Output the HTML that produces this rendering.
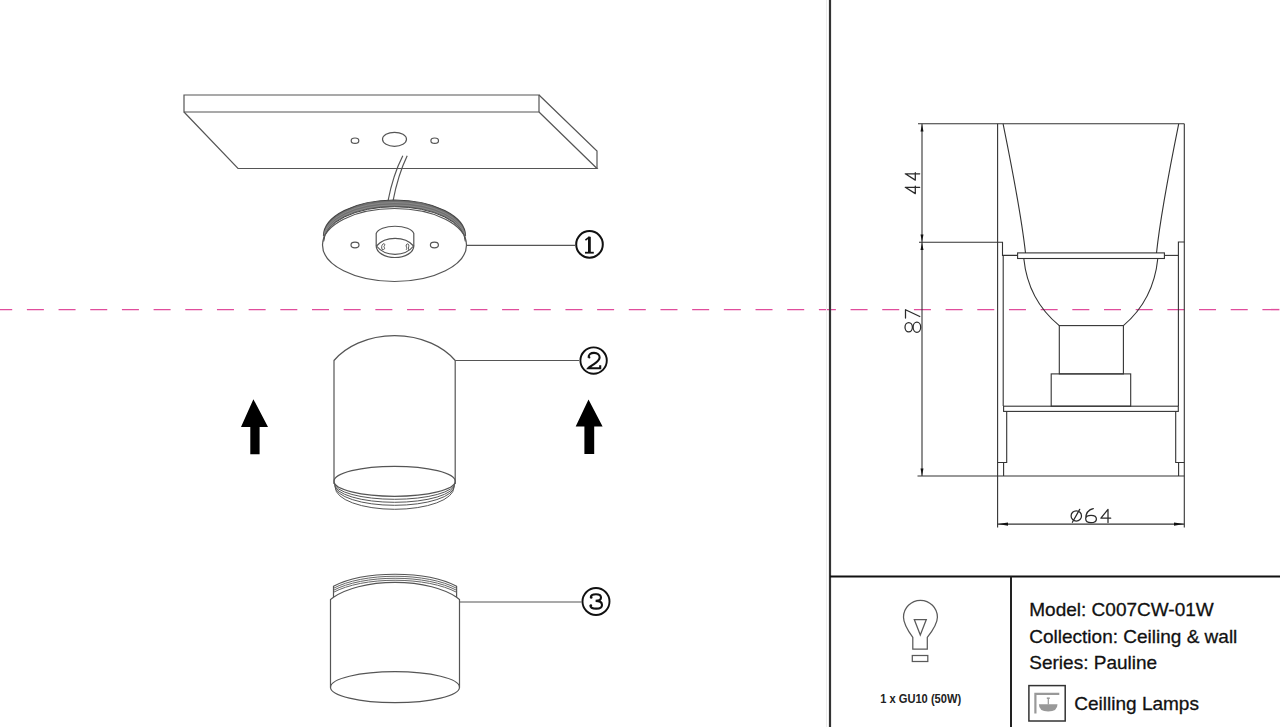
<!DOCTYPE html>
<html><head><meta charset="utf-8">
<style>
html,body{margin:0;padding:0;background:#fff;width:1280px;height:727px;overflow:hidden}
svg{position:absolute;left:0;top:0;display:block}
text{font-family:"Liberation Sans",sans-serif}
.s{fill:none;stroke:#555;stroke-width:1.2}
.d{fill:none;stroke:#333;stroke-width:1.1}
</style></head><body>
<svg width="1280" height="727" viewBox="0 0 1280 727">
<!-- ===== PLATE ===== -->
<g class="s">
<path d="M184,95 H539 V112 H184 Z"/>
<path d="M184,112 L238,168.5 H597 L539,112"/>
<path d="M539,95 L597,151 V168.5"/>
<ellipse cx="355" cy="140.7" rx="3.8" ry="2.7"/>
<ellipse cx="394.5" cy="139.3" rx="12" ry="7"/>
<ellipse cx="434.7" cy="140.7" rx="3.8" ry="2.7"/>
<path d="M402.8,155.8 Q393,175 388,201"/>
<path d="M407.2,155.8 Q398,175 393,201"/>
</g>
<!-- ===== DISC ① ===== -->
<path d="M323.5,236 A71,36 0 0 1 465.5,236 L465.3,241.5 A70.8,34.8 0 0 0 323.7,241.5 Z" fill="#707070"/>
<g class="s">
<path d="M323.5,236 A71,36 0 0 1 465.5,236" stroke="#444"/>
<path d="M323.6,238 A70.9,35.5 0 0 1 465.4,238" stroke="#9a9a9a" stroke-width="0.6"/>
<path d="M323.6,240 A70.9,35 0 0 1 465.4,240" stroke="#9a9a9a" stroke-width="0.6"/>
<path d="M323.7,241.5 A70.8,34.8 0 0 1 465.3,241.5" stroke="#444" stroke-width="1"/>
<ellipse cx="394.5" cy="245" rx="72" ry="36.5"/>
<path d="M376.2,246 V233.5 A19,8.5 0 0 1 413.8,233.5 V246"/>
<path d="M376.2,246 A18.8,11.5 0 0 0 413.8,246"/>
<path d="M376.5,246 A22,16.5 0 0 1 413.6,246 A22,18 0 0 1 376.5,246 Z"/>
<path d="M382.2,249.5 C381.2,247.5 381.6,245.5 382.8,244.2 C383.8,243.2 385.2,243.8 384.6,245.4 C384,246.4 383.6,246.6 384.3,247.4 C385.2,248.6 384.2,250 382.2,249.5" stroke-width="1"/>
<path d="M406.2,249.8 C407.8,247.6 405.6,246.6 406.2,245 C406.8,243.4 408.6,243.6 408.8,245.2 C409,246.8 408.2,247 408.6,249.8" stroke-width="1"/>
<ellipse cx="355" cy="245" rx="4" ry="2.8"/>
<ellipse cx="434.4" cy="245" rx="4" ry="2.8"/>
<path d="M466.6,245.3 H575"/>
</g>
<circle cx="589.5" cy="244.4" r="13.3" fill="none" stroke="#111" stroke-width="2"/>
<g fill="none" stroke="#111" stroke-linecap="butt">
<path d="M589.4,236.8 V252.6" stroke-width="2.8"/>
<path d="M585.4,240.2 L589.6,236.8" stroke-width="1.6"/>
<path d="M585,252.7 H593.8" stroke-width="1.8"/>
</g>

<!-- ===== CYLINDER ② ===== -->
<g class="s">
<path d="M334,484 V360.5 A72,54 0 0 1 455.2,360.5 V484"/>
<ellipse cx="394.6" cy="481.3" rx="60.6" ry="15"/>
<path d="M334.2,482.8 A60.4,16.5 0 0 0 455.0,482.8" stroke-width="1"/>
<path d="M334.5,484.3 A60.1,18 0 0 0 454.7,484.3" stroke-width="1"/>
<path d="M334.8,485.8 A59.8,19.5 0 0 0 454.4,485.8" stroke-width="1"/>
<path d="M335.3,487.5 A59.3,21.8 0 0 0 453.9,487.5" stroke-width="1"/>
<path d="M455.2,360.5 H579"/>
</g>
<circle cx="593.6" cy="360.6" r="13.2" fill="none" stroke="#111" stroke-width="1.9"/>
<g fill="none" stroke="#111" stroke-width="2.1">
<path d="M588.6,357.6 C588.4,354.3 590.8,352.9 594,352.9 C597.6,352.9 599.8,354.9 599.6,357.6 C599.4,360.6 596.5,362.4 593.2,364.6 C590.8,366.2 589,367.3 588.3,368.2 H600.2 V365.2"/>
<circle cx="589.3" cy="357.4" r="1.1" fill="#111" stroke="none"/>
</g>
<path d="M253.4,399.2 L268,427 H259.6 V454.3 H250.3 V427 H241 Z" fill="#000"/>
<path d="M588.5,399.4 L602.6,426.6 H594.2 V453.9 H584.4 V426.6 H575.7 Z" fill="#000"/>

<!-- ===== CYLINDER ③ ===== -->
<g class="s">
<path d="M330.5,687.4 V599.6 L333.5,597.2 A75,34.8 0 0 1 456.6,597.2 L459.5,599.6 V687.4"/>
<ellipse cx="395" cy="687.2" rx="64.5" ry="15.5"/>
<path d="M333.5,597.2 V586.3 A75,28.1 0 0 1 456.6,586.3 V597.2"/>




<path d="M333.5,588.3 A75,28.1 0 0 1 456.6,588.3" stroke-width="1" stroke="#666"/>
<path d="M333.5,590.3 A75,28.1 0 0 1 456.6,590.3" stroke-width="1" stroke="#666"/>
<path d="M333.5,592.3 A75,28.1 0 0 1 456.6,592.3" stroke-width="1" stroke="#666"/>
<path d="M459.5,602 H581.5"/>
</g>
<circle cx="596" cy="601.5" r="13.5" fill="none" stroke="#111" stroke-width="1.9"/>
<g fill="none" stroke="#111" stroke-width="2.1">
<path d="M590.8,597.3 C590.8,595 593,594.2 596,594.2 C599.6,594.2 601,595.8 601,597.6 C601,599.6 599.2,600.9 595.6,600.9 C600,600.9 602,602.6 602,604.9 C602,607.4 599.8,608.6 596.2,608.6 C592.4,608.6 590.4,607.6 590.4,605.4"/>
<circle cx="591.2" cy="597.4" r="1.3" fill="#111" stroke="none"/>
<circle cx="590.9" cy="605.6" r="1.3" fill="#111" stroke="none"/>
</g>

<!-- ===== DASHED CENTER LINE ===== -->
<path d="M-4.8,309.6 H1290" stroke="#e04d9c" stroke-width="1.45" stroke-dasharray="17,14.68" fill="none"/>

<!-- ===== FRAME ===== -->
<path d="M826.5,0 V727" stroke="#ececec" stroke-width="1"/>
<path d="M830,0 V727" stroke="#333" stroke-width="2.2"/>
<path d="M830,576.5 H1280" stroke="#111" stroke-width="2"/>
<path d="M1011,576.5 V727" stroke="#222" stroke-width="2"/>

<!-- ===== DIMENSION DRAWING ===== -->
<g class="d">
<path d="M918,123.8 H1184.3"/>
<path d="M922,123.8 V476"/>
<path d="M919,242.2 H1002.5 V255.4 H1017.6"/>
<path d="M917.5,476 H1184.3"/>
<path d="M997.6,123.8 V527.4"/>
<path d="M1184.3,123.8 V527.4"/>
<path d="M1003.1,123.8 Q1021,212 1025.5,253"/>
<path d="M1178.7,123.8 Q1160.8,212 1156.5,253"/>
<rect x="1017.6" y="252.9" width="146.8" height="5.6"/>
<path d="M1023.8,258.5 Q1028,300 1059.3,325.6"/>
<path d="M1157.8,258.5 Q1153.6,300 1123.4,325.6"/>
<path d="M1184.3,242 H1178.4 V406"/>
<path d="M1164.4,255.4 H1178.4"/>
<path d="M1003.2,255.4 V406"/>
<rect x="1059.3" y="325.6" width="64.1" height="48.3"/>
<rect x="1051.2" y="373.9" width="79.5" height="32.3"/>
<rect x="1003.6" y="406.2" width="174.7" height="5.2"/>
<path d="M1006.7,411.4 V462.5 H997.6 M1003.6,462.5 V476"/>
<path d="M1175.7,411.4 V462.5 H1184.3 M1178.6,462.5 V476"/>
<path d="M997.6,524.1 H1184.3"/>
</g>
<g fill="#111">
<path d="M922,124.5 L920.5,131.5 H923.5 Z"/>
<path d="M922,241.8 L920.5,234.5 H923.5 Z"/>
<path d="M922,242.8 L920.5,250 H923.5 Z"/>
<path d="M922,475.5 L920.5,468.5 H923.5 Z"/>
<path d="M998,524.1 L1008,522.5 V525.7 Z"/>
<path d="M1184,524.1 L1174,522.5 V525.7 Z"/>
</g>
<g fill="none" stroke="#2a2a2a" stroke-width="1.25" stroke-linejoin="round" stroke-linecap="round">
<path d="M905.2,187.3 H919.7 M915.3,186.2 V193.6 M905.3,187.3 L915.3,193.6"/>
<path d="M905.2,173.8 H919.7 M915.3,172.7 V180.1 M905.3,173.8 L915.3,180.1"/>
<path d="M905.5,318 V309.7 L919.8,316.5"/>
<ellipse cx="908.7" cy="327.3" rx="3.7" ry="4.7"/>
<ellipse cx="916.9" cy="327.3" rx="3.8" ry="5.1"/>
<ellipse cx="1076.3" cy="515.9" rx="5.2" ry="5.1"/>
<path d="M1072.4,522.3 L1079.7,509.4"/>
<path d="M1093.3,508.6 C1089,509.5 1085.7,513 1085.7,518.8 C1085.7,521.3 1088,522.7 1091,522.7 C1094.5,522.7 1096.4,521 1096.4,519 C1096.4,516.8 1094.3,515.3 1091,515.3 C1088.2,515.3 1086.2,516.5 1085.8,518"/>
<path d="M1108,522.5 V509.3 L1100.9,518.2 H1110.7"/>
</g>
<!-- ===== INFO PANEL ===== -->
<g fill="none" stroke="#5a5a5a" stroke-width="1.25">
<path d="M912.8,649 V637.4 Q903.5,624.5 903.5,617.2 A16.95,16.9 0 0 1 937.4,617.2 Q937.4,624.5 927.3,637.4 V649 Z"/>
<path d="M914.3,619.6 H926.3 L920.3,635 Z"/>
<rect x="912.3" y="655.5" width="15.5" height="6"/>
</g>
<text x="880.2" y="702.8" font-size="12.5" font-weight="bold" fill="#222" textLength="81" lengthAdjust="spacingAndGlyphs">1 x GU10 (50W)</text>
<text x="1029.3" y="615.5" font-size="19" fill="#111" stroke="#111" stroke-width="0.3">Model: C007CW-01W</text>
<text x="1029.3" y="642.5" font-size="19" fill="#111" stroke="#111" stroke-width="0.3">Collection: Ceiling &amp; wall</text>
<text x="1029.3" y="669.3" font-size="19" fill="#111" stroke="#111" stroke-width="0.3">Series: Pauline</text>
<rect x="1028.9" y="685.6" width="36.3" height="35.4" fill="none" stroke="#333" stroke-width="1.5"/>
<path d="M1035.4,713.4 V693.8 H1059.3" fill="none" stroke="#999" stroke-width="2.2"/>
<path d="M1038.9,704.3 H1057.5 Q1057.5,711.6 1048.2,711.6 Q1038.9,711.6 1038.9,704.3 Z" fill="#999"/>
<path d="M1048.3,698 V704.5" stroke="#999" stroke-width="1.2"/>
<path d="M1046.8,698.2 H1049.8" stroke="#999" stroke-width="1.5"/>
<text x="1074.3" y="709.8" font-size="19" fill="#111" stroke="#111" stroke-width="0.3">Ceilling Lamps</text>
</svg>
</body></html>
